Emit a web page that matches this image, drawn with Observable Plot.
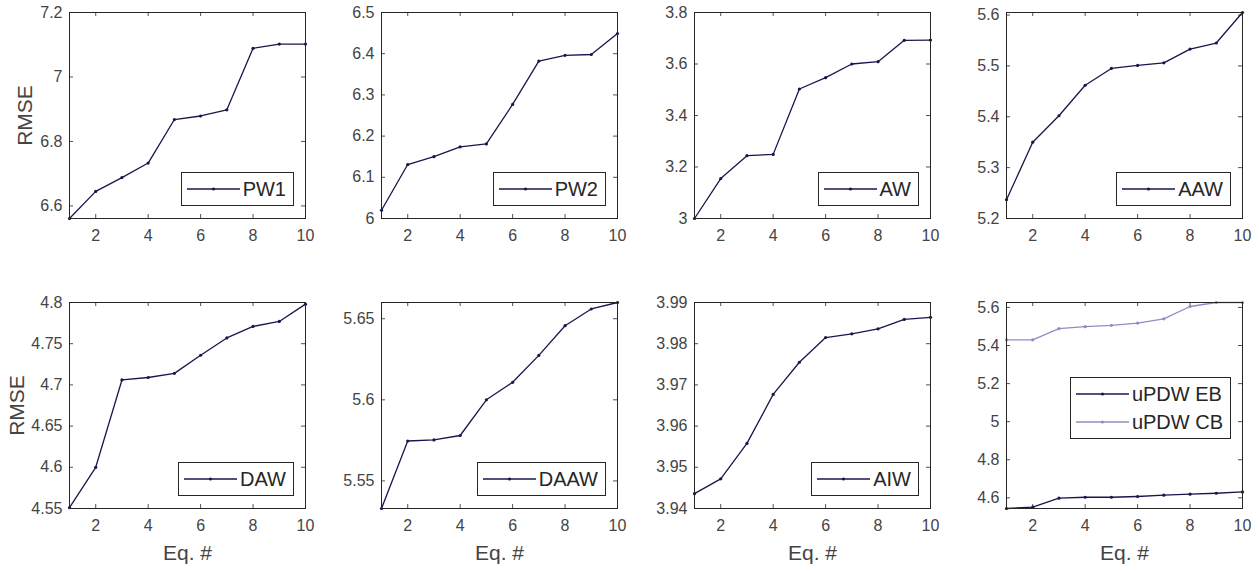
<!DOCTYPE html>
<html><head><meta charset="utf-8">
<script src="https://cdn.jsdelivr.net/npm/d3@7"></script>
<script src="https://cdn.jsdelivr.net/npm/@observablehq/plot@0.6"></script>
<style>
body{margin:0;background:#fff;}
#root{position:relative;width:1259px;height:572px;overflow:hidden;font-family:"Liberation Sans",Arial,sans-serif;}
.panel{position:absolute;}
.legend{position:absolute;border:1px solid #262626;background:#fff;padding:2px 7px 2px 5px;box-sizing:border-box;}
.legend .row{display:flex;align-items:center;height:28px;font-size:20px;color:#262626;white-space:nowrap;}
.legend svg{margin-right:3px;}
</style></head><body><div id="root"></div>
<script>
// ---- data ----
const eq = [1, 2, 3, 4, 5, 6, 7, 8, 9, 10];
const PW1 = [6.561, 6.645, 6.688, 6.733, 6.868, 6.879, 6.898, 7.089, 7.102, 7.102];
const PW2 = [6.020, 6.131, 6.150, 6.174, 6.181, 6.277, 6.382, 6.396, 6.398, 6.449];
const AW = [3.000, 3.155, 3.244, 3.249, 3.503, 3.547, 3.600, 3.609, 3.692, 3.693];
const AAW = [5.237, 5.350, 5.402, 5.462, 5.495, 5.501, 5.506, 5.533, 5.545, 5.605];
const DAW = [4.551, 4.600, 4.706, 4.709, 4.714, 4.736, 4.757, 4.771, 4.777, 4.798];
const DAAW = [5.533, 5.5746, 5.5753, 5.578, 5.600, 5.6108, 5.6274, 5.6457, 5.656, 5.660];
const AIW = [3.9436, 3.9472, 3.9558, 3.9677, 3.9755, 3.9815, 3.9824, 3.9836, 3.9859, 3.9864];
const uPDW_EB = [4.544, 4.551, 4.598, 4.603, 4.603, 4.607, 4.614, 4.619, 4.624, 4.631];
const uPDW_CB = [5.430, 5.430, 5.489, 5.499, 5.506, 5.518, 5.540, 5.605, 5.626, 5.626];

// ---- tick labels ----
const xTicks = [2, 4, 6, 8, 10];
const yTicksPW1 = [6.6, 6.8, 7, 7.2];
const yTicksPW2 = [6, 6.1, 6.2, 6.3, 6.4, 6.5];
const yTicksAW = [3, 3.2, 3.4, 3.6, 3.8];
const yTicksAAW = [5.2, 5.3, 5.4, 5.5, 5.6];
const yTicksDAW = [4.55, 4.6, 4.65, 4.7, 4.75, 4.8];
const yTicksDAAW = [5.55, 5.6, 5.65];
const yTicksAIW = [3.94, 3.95, 3.96, 3.97, 3.98, 3.99];
const yTicksUPDW = [4.6, 4.8, 5, 5.2, 5.4, 5.6];

// ---- axis limits ----
const yLimPW1 = [6.561, 7.2];
const yLimPW2 = [6, 6.5];
const yLimAW = [3, 3.8];
const yLimAAW = [5.2, 5.605];
const yLimDAW = [4.55, 4.8];
const yLimDAAW = [5.533, 5.66];
const yLimAIW = [3.94, 3.99];
const yLimUPDW = [4.544, 5.626];

const xLabel = "Eq. #";
const yLabel = "RMSE";

// ---- styles ----
const dark = "#17174c";
const light = "#8e8ec6";
const axisColor = "#262626";
const tickColor = "#444444";

const panels = [
  {series: [{name: "PW1", values: PW1, color: dark}], yTicks: yTicksPW1, yLim: yLimPW1},
  {series: [{name: "PW2", values: PW2, color: dark}], yTicks: yTicksPW2, yLim: yLimPW2},
  {series: [{name: "AW", values: AW, color: dark}], yTicks: yTicksAW, yLim: yLimAW},
  {series: [{name: "AAW", values: AAW, color: dark}], yTicks: yTicksAAW, yLim: yLimAAW},
  {series: [{name: "DAW", values: DAW, color: dark}], yTicks: yTicksDAW, yLim: yLimDAW},
  {series: [{name: "DAAW", values: DAAW, color: dark}], yTicks: yTicksDAAW, yLim: yLimDAAW},
  {series: [{name: "AIW", values: AIW, color: dark}], yTicks: yTicksAIW, yLim: yLimAIW},
  {series: [{name: "uPDW EB", values: uPDW_EB, color: dark}, {name: "uPDW CB", values: uPDW_CB, color: light}], yTicks: yTicksUPDW, yLim: yLimUPDW, legendMid: true}
];

const frameLefts = [69, 381, 694, 1006];
const frameTops = [12, 302];
const W = 236, H = 206;
const ml = 62, mr = 10, mt = 10, mb = 62;
const root = document.getElementById("root");
const fmt = d => String(d);

panels.forEach((p, i) => {
  const col = i % 4, row = Math.floor(i / 4);
  const data = p.series.flatMap(s => eq.map((e, j) => ({eq: e, v: s.values[j], name: s.name, color: s.color})));
  const marks = [
    Plot.ruleX(xTicks, {x: d => d, insetTop: H - 4, stroke: axisColor, strokeWidth: 0.8}),
    Plot.ruleX(xTicks, {x: d => d, insetBottom: H - 4, stroke: axisColor, strokeWidth: 0.8}),
    Plot.ruleY(p.yTicks, {y: d => d, insetRight: W - 4, stroke: axisColor, strokeWidth: 0.8}),
    Plot.ruleY(p.yTicks, {y: d => d, insetLeft: W - 4, stroke: axisColor, strokeWidth: 0.8}),
    Plot.axisX(xTicks, {tickSize: 0, tickPadding: 11, tickFormat: fmt, fontSize: 16, label: null, color: tickColor}),
    Plot.axisY(p.yTicks, {tickSize: 0, tickPadding: 7, tickFormat: fmt, fontSize: 16, label: null, color: tickColor}),
    ...p.series.map(s => Plot.line(data.filter(d => d.name === s.name), {x: "eq", y: "v", stroke: s.color, strokeWidth: 1.3})),
    ...p.series.map(s => Plot.dot(data.filter(d => d.name === s.name), {x: "eq", y: "v", fill: s.color, r: 1.6})),
    Plot.frame({stroke: axisColor, strokeWidth: 1})
  ];
  if (row === 1) marks.push(Plot.text([xLabel], {frameAnchor: "bottom", dy: 45, lineAnchor: "middle", textAnchor: "middle", fontSize: 21, fill: tickColor}));
  if (col === 0) marks.push(Plot.text([yLabel], {frameAnchor: "left", dx: row === 0 ? -44 : -52, rotate: -90, textAnchor: "middle", lineAnchor: "middle", fontSize: 21, fill: tickColor}));
  const chart = Plot.plot({
    width: W + ml + mr, height: H + mt + mb,
    marginLeft: ml, marginRight: mr, marginTop: mt, marginBottom: mb,
    x: {domain: [1, 10]},
    y: {domain: p.yLim},
    style: {fontFamily: '"Liberation Sans", Arial, sans-serif', background: "transparent", overflow: "visible"},
    marks
  });
  chart.classList.add("panel");
  chart.style.left = (frameLefts[col] - ml) + "px";
  chart.style.top = (frameTops[row] - mt) + "px";
  root.appendChild(chart);

  // legend
  const lg = document.createElement("div");
  lg.className = "legend";
  p.series.forEach(s => {
    const r = document.createElement("div");
    r.className = "row";
    r.innerHTML = `<svg width="53" height="10"><line x1="0" x2="53" y1="5" y2="5" stroke="${s.color}" stroke-width="1.3"/><circle cx="26.5" cy="5" r="1.6" fill="${s.color}"/></svg><span>${s.name}</span>`;
    lg.appendChild(r);
  });
  root.appendChild(lg);
  const right = 1259 - (frameLefts[col] + W - 11);
  lg.style.right = right + "px";
  if (p.legendMid) {
    lg.style.top = (frameTops[row] + 75) + "px";
  } else {
    lg.style.bottom = (572 - (frameTops[row] + H - 12)) + "px";
  }
});
</script></body></html>
